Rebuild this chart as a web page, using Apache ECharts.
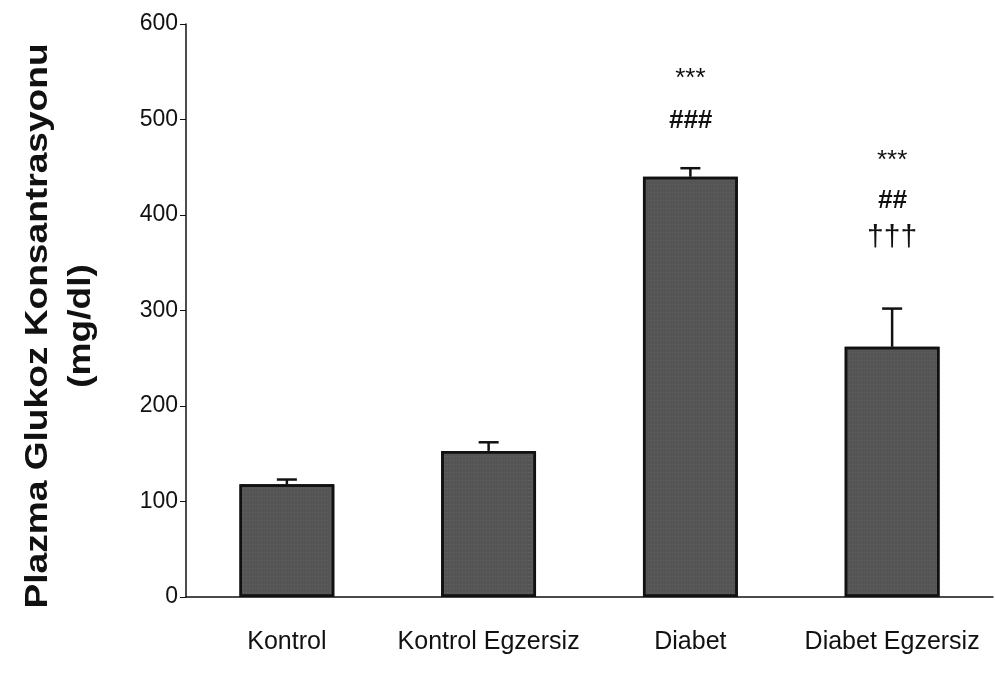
<!DOCTYPE html>
<html><head><meta charset="utf-8">
<script src="https://cdn.jsdelivr.net/npm/echarts@6/dist/echarts.min.js"></script>
<style>html,body{margin:0;padding:0;background:#fff}#c{width:995px;height:675px}</style>
</head><body><div id="c"></div>
<script>
const categories = ['Kontrol', 'Kontrol Egzersiz', 'Diabet', 'Diabet Egzersiz'];
const means = [118, 153, 440, 262];
const errors = [5, 9, 9, 40];
const yTicks = [0, 100, 200, 300, 400, 500, 600];
// significance marks: [category index, y value, text]
const marks = [
  [2, 543, '***'], [2, 499, '###'],
  [3, 457, '***'], [3, 415, '##'], [3, 376, '†††']
];

const chart = echarts.init(document.getElementById('c'));
chart.setOption({
  animation: false,
  grid: { left: 186, right: 2, top: 24, bottom: 78 },
  xAxis: {
    type: 'category', data: categories,
    axisLine: { lineStyle: { color: '#111', width: 1.5 } },
    axisTick: { show: false },
    axisLabel: { interval: 0, color: '#111', fontFamily: 'Liberation Sans, Arial, sans-serif', fontSize: 25, margin: 33 }
  },
  yAxis: {
    type: 'value', min: yTicks[0], max: yTicks[yTicks.length - 1], interval: 100,
    splitLine: { show: false },
    axisLine: { show: true, lineStyle: { color: '#111', width: 1.5 } },
    axisTick: { show: true, length: 6, lineStyle: { color: '#111' } },
    axisLabel: { color: '#111', fontFamily: 'Liberation Sans, Arial, sans-serif', fontSize: 23, margin: 8 }
  },
  graphic: [{
    type: 'text', x: 38, y: 326, rotation: Math.PI / 2, scaleX: 1.16,
    style: { text: 'Plazma Glukoz Konsantrasyonu', align: 'center', verticalAlign: 'middle',
      font: 'bold 32px Liberation Sans, Arial, sans-serif', fill: '#111' }
  }, {
    type: 'text', x: 81, y: 326, rotation: Math.PI / 2, scaleX: 1.16,
    style: { text: '(mg/dl)', align: 'center', verticalAlign: 'middle',
      font: 'bold 32px Liberation Sans, Arial, sans-serif', fill: '#111' }
  }],
  series: [{
    type: 'bar', data: means, barWidth: '47%',
    itemStyle: { color: '#555555', borderColor: '#111', borderWidth: 2.5,
      decal: { symbol: 'rect', symbolSize: 0.5, dashArrayX: [1, 2], dashArrayY: [1, 3], color: 'rgba(220,220,220,0.4)', rotation: 0 } }
  }, {
    type: 'custom',
    data: means.map((m, i) => [i, m, m + errors[i]]),
    renderItem: function (params, api) {
      const p0 = api.coord([api.value(0), api.value(1)]);
      const p1 = api.coord([api.value(0), api.value(2)]);
      const hw = 10;
      return { type: 'group', children: [
        { type: 'line', shape: { x1: p0[0], y1: p0[1], x2: p1[0], y2: p1[1] }, style: { stroke: '#111', lineWidth: 2.5 } },
        { type: 'line', shape: { x1: p1[0] - hw, y1: p1[1], x2: p1[0] + hw, y2: p1[1] }, style: { stroke: '#111', lineWidth: 2.5 } }
      ] };
    },
    z: 5
  }, {
    type: 'custom',
    data: marks,
    renderItem: function (params, api) {
      const p = api.coord([api.value(0), api.value(1)]);
      const t = marks[params.dataIndex][2];
      const size = t.indexOf('*') >= 0 ? 26 : (t.indexOf('†') >= 0 ? 30 : 26);
      return { type: 'text', x: p[0], y: p[1],
        style: { text: t, align: 'center', verticalAlign: 'middle', fill: '#111',
          font: (t.indexOf('#') >= 0 ? 'italic bold ' : '') + size + 'px Liberation Sans, Arial, sans-serif' } };
    },
    z: 6
  }]
});
</script></body></html>
